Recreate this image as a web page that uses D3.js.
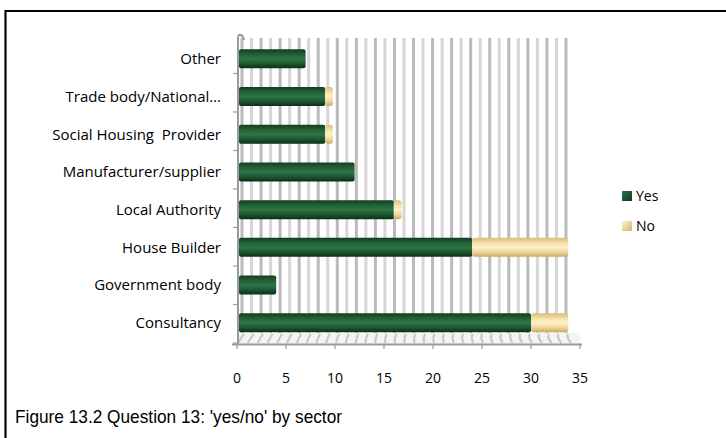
<!DOCTYPE html>
<html>
<head>
<meta charset="utf-8">
<script src="https://cdn.jsdelivr.net/npm/d3@7"></script>
<style>
  html, body { margin: 0; padding: 0; background: #fff; }
  svg { display: block; }
</style>
</head>
<body>
<svg id="chart" width="726" height="438"></svg>
<script>
// ---- data ----
const categories = ["Other", "Trade body/National\u2026", "Social Housing  Provider", "Manufacturer/supplier",
                    "Local Authority", "House Builder", "Government body", "Consultancy"];
const yesValues = [7, 9, 9, 12, 16, 24, 4, 30];
const noValues  = [0, 1, 1, 0, 1, 10, 0, 4];
const xTicks = [0, 5, 10, 15, 20, 25, 30, 35];
const seriesNames = ["Yes", "No"];
const caption = "Figure 13.2 Question 13: 'yes/no' by sector";

const svg = d3.select("#chart");
const defs = svg.append("defs");

function cyl(id, stops) {
  const g = defs.append("linearGradient").attr("id", id)
    .attr("x1", 0).attr("y1", 0).attr("x2", 0).attr("y2", 1);
  stops.forEach(s => g.append("stop").attr("offset", s[0]).attr("stop-color", s[1]));
}
cyl("gYes", [[0, "#113d1f"], [0.25, "#215f35"], [0.5, "#2f7446"], [0.75, "#1d5831"], [1, "#0c2e16"]]);
cyl("gNo",  [[0, "#d9bd7c"], [0.3, "#f6e3ae"], [0.5, "#fdf0c6"], [0.75, "#eed79c"], [1, "#c9a962"]]);
const lg = defs.append("linearGradient").attr("id", "lYes").attr("x1",0).attr("y1",0).attr("x2",1).attr("y2",1);
lg.append("stop").attr("offset",0).attr("stop-color","#2f7446");
lg.append("stop").attr("offset",1).attr("stop-color","#103a1d");
const ln = defs.append("linearGradient").attr("id", "lNo").attr("x1",0).attr("y1",0).attr("x2",1).attr("y2",1);
ln.append("stop").attr("offset",0).attr("stop-color","#fff3cf");
ln.append("stop").attr("offset",1).attr("stop-color","#d2b271");

// ---- frame ----
svg.append("line").attr("x1", 5).attr("x2", 726).attr("y1", 11).attr("y2", 11)
  .attr("stroke", "#000").attr("stroke-width", 2.2);
svg.append("line").attr("x1", 5.5).attr("x2", 5.5).attr("y1", 10).attr("y2", 438)
  .attr("stroke", "#000").attr("stroke-width", 2.2);

// ---- scales ----
const x = d3.scaleLinear().domain([0, 35]).range([237, 580]);
const xBack = d3.scaleLinear().domain([0, 35]).range([242, 575.5]);
const yBar = d3.scaleBand().domain(categories).range([40, 341.6]).paddingInner(0.5).paddingOuter(0.25);
const yTick = d3.scaleBand().domain(categories).range([35, 343]);

// ---- back wall stripes ----
const stripeVals = d3.range(0, 35);
svg.append("g").selectAll("rect").data(stripeVals).enter().append("rect")
  .attr("x", d => xBack(d) - 1.5).attr("width", 3)
  .attr("y", 38).attr("height", 295)
  .attr("fill", (d, i) => i % 2 ? "#d6d6d6" : "#bababa");

// ---- floor hatch ----
const floor = svg.append("g");
floor.append("rect").attr("x", 238).attr("y", 333).attr("width", 342).attr("height", 11).attr("fill", "#f4f4f4");
floor.selectAll("path").data(d3.range(0, 35)).enter().append("path")
  .attr("d", d => { const bx = xBack(d); const fx = x(d); return `M${bx + 2},334 Q${bx},337 ${fx + 1},343`; })
  .attr("fill", "none").attr("stroke", "#c8c8c8").attr("stroke-width", 2.2);

// ---- axes ----
const axisColor = "#9a9a9a";
svg.append("line").attr("x1", 232).attr("x2", 582).attr("y1", 344.5).attr("y2", 344.5)
  .attr("stroke", axisColor).attr("stroke-width", 2);
svg.append("g").selectAll("line").data(xTicks).enter().append("line")
  .attr("x1", d => x(d)).attr("x2", d => x(d)).attr("y1", 344).attr("y2", 349)
  .attr("stroke", axisColor).attr("stroke-width", 1.2);
svg.append("path").attr("d", "M238,344 L238,38 Q238,34 241,35 Q243,36 244,40")
  .attr("fill", "none").attr("stroke", axisColor).attr("stroke-width", 2);
const tickYs = categories.map(c => yTick(c)).concat([yTick.range()[1]]);
svg.append("g").selectAll("line").data(tickYs.slice(1)).enter().append("line")
  .attr("x1", 233).attr("x2", 238).attr("y1", d => d).attr("y2", d => d)
  .attr("stroke", axisColor).attr("stroke-width", 1.2);

// tick labels
svg.append("g").selectAll("text").data(xTicks).enter().append("text")
  .attr("x", d => x(d)).attr("y", 383).attr("text-anchor", "middle")
  .attr("font-family", "'Open Sans', sans-serif").attr("font-size", 14).attr("fill", "#000")
  .text(d => d);

// category labels
svg.append("g").selectAll("text").data(categories).enter().append("text")
  .attr("x", 221).attr("y", c => yBar(c) + yBar.bandwidth() / 2).attr("dy", "0.35em")
  .attr("text-anchor", "end")
  .attr("font-family", "'Open Sans', sans-serif").attr("font-size", 15).attr("fill", "#000")
  .style("white-space", "pre")
  .text(c => c);

// ---- bars ----
const bh = 19;
const bars = svg.append("g");
categories.forEach((c, i) => {
  const cy = yBar(c) + yBar.bandwidth() / 2;
  const y0 = cy - bh / 2;
  const yv = yesValues[i], nv = noValues[i];
  bars.append("rect").attr("x", x(0) + 2).attr("y", y0)
    .attr("width", x(yv) - x(0) - 2).attr("height", bh)
    .attr("rx", 2).attr("fill", "url(#gYes)");
  if (nv > 0) {
    bars.append("rect").attr("x", x(yv)).attr("y", y0)
      .attr("width", x(yv + nv) - x(yv) - 2).attr("height", bh)
      .attr("rx", 3).attr("fill", "url(#gNo)");
  }
});

// ---- legend ----
const lgG = svg.append("g");
seriesNames.forEach((s, i) => {
  const ly = 196 + i * 30;
  lgG.append("rect").attr("x", 622).attr("y", ly - 5).attr("width", 10).attr("height", 10)
    .attr("fill", i === 0 ? "url(#lYes)" : "url(#lNo)");
  lgG.append("text").attr("x", 636).attr("y", ly).attr("dy", "0.35em")
    .attr("font-family", "'Open Sans', sans-serif").attr("font-size", 14).attr("fill", "#000")
    .text(s);
});

// ---- caption ----
svg.append("text").attr("x", 15).attr("y", 423)
  .attr("font-family", "'Liberation Sans', Arial, sans-serif").attr("font-size", 19)
  .attr("textLength", 327).attr("lengthAdjust", "spacingAndGlyphs")
  .attr("fill", "#000").text(caption);
</script>
</body>
</html>
